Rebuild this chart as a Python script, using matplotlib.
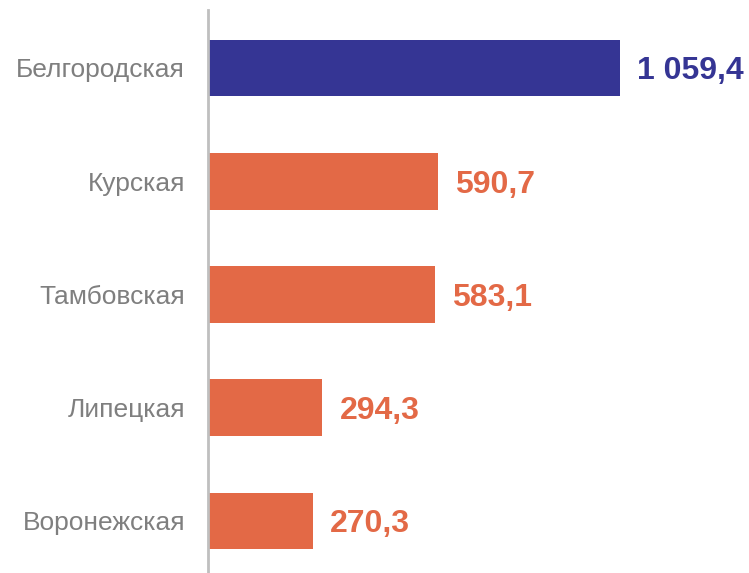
import matplotlib
matplotlib.use("Agg")
import matplotlib.pyplot as plt

regions = ["Белгородская", "Курская", "Тамбовская", "Липецкая", "Воронежская"]
values = [1059.4, 590.7, 583.1, 294.3, 270.3]
labels = ["1 059,4", "590,7", "583,1", "294,3", "270,3"]

navy = "#353594"
orange = "#E36946"
colors = [navy] + [orange] * (len(values) - 1)

plt.rcParams["font.family"] = ["Liberation Sans", "DejaVu Sans"]

fig = plt.figure(figsize=(7.49, 5.73), dpi=100)
ax = fig.add_axes([208 / 749, 0, 541 / 749, 563 / 573])

pos = list(range(len(regions)))
ax.barh(pos, values, height=0.5, color=colors)

# baseline-Ausrichtung, damit die Ziffern mittig zum Balken sitzen
for y, v, lab, c in zip(pos, values, labels, colors):
    ax.annotate(lab, xy=(v, y), xytext=(17, -11.5), textcoords="offset pixels",
                va="baseline", ha="left", fontsize=23, fontweight="bold",
                color=c, annotation_clip=False)

ax.set_xlim(0, 1391)
ax.set_ylim(4.46, -0.512)
ax.set_yticks(pos)
ax.set_yticklabels(regions, fontsize=19, color="#7F7F7F")
ax.tick_params(axis="y", length=0, pad=16.5)
ax.set_xticks([])

for side in ["top", "right", "bottom"]:
    ax.spines[side].set_visible(False)
ax.spines["left"].set_color("#BFBFBF")
ax.spines["left"].set_linewidth(2)

fig.savefig("out.png", dpi=100)
